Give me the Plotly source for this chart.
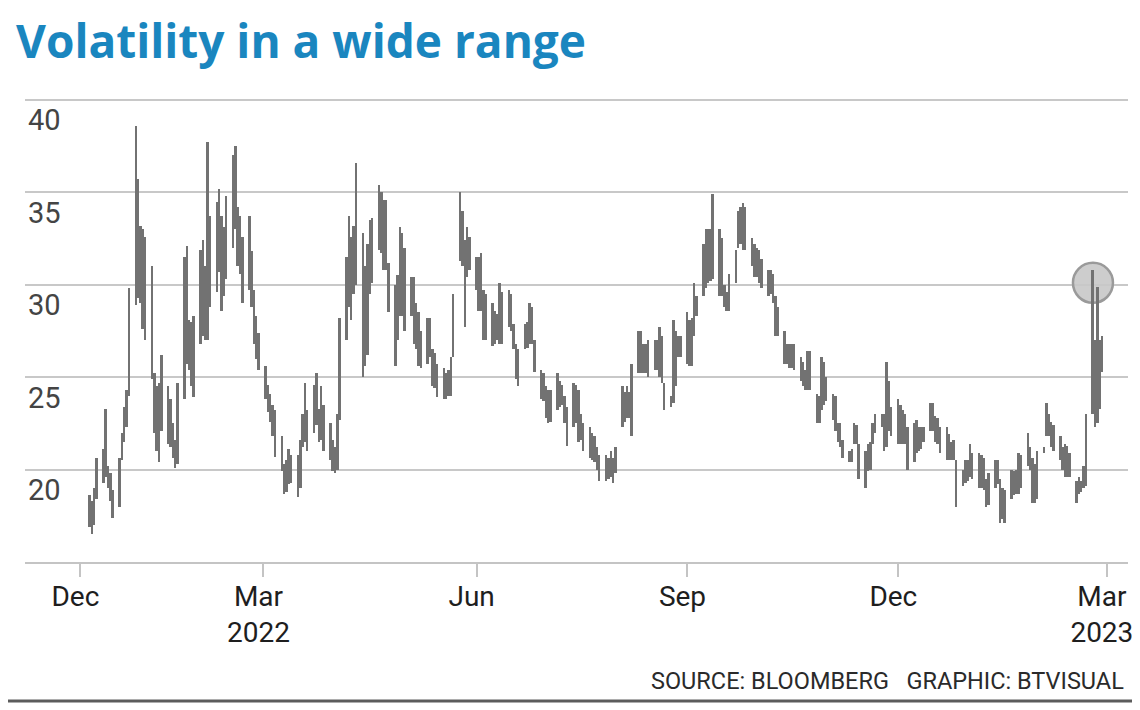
import pandas as pd
import plotly.graph_objects as go

# ---------------- data ----------------
START_DATE = "2022-01-04"   # first trading day shown; one value per business day

high = [
    18.6, 18.3, 19.0, 20.6,
    21.1, 23.3, 20.2, 19.8, 18.9,
    20.6, 22.0, 23.4, 24.3, 29.8,
    38.6, 35.7, 33.2, 33.0, 32.6,
    31.0, 25.2, 24.5, 24.7, 26.2,
    24.5, 23.8, 22.5, 21.6, 24.7,
    31.5, 32.1, 28.1, 28.0, 28.3,
    31.9, 32.4, 31.0, 37.7, 33.7,
    34.5, 35.2, 33.7, 33.1, 34.8,
    37.0, 37.5, 34.2, 33.7, 32.6,
    33.7, 31.8, 29.7, 28.3, 27.4,
    25.6, 24.6, 24.1, 23.5, 23.2,
    21.8, 20.3, 20.5, 21.1, 20.8,
    20.8, 21.6, 23.0, 24.7, 23.2,
    24.6, 25.2, 23.3, 24.5, 23.5,
    22.5, 21.6, 21.2, 23.0, 28.2,
    31.5, 33.7, 32.6, 33.2, 36.6,
    32.8, 31.0, 32.2, 33.5, 33.6,
    35.4, 35.0, 34.6, 34.6, 31.2,
    30.0, 30.5, 33.1, 32.8, 32.0,
    30.4, 30.4, 29.0, 28.5, 27.5,
    28.2, 28.2, 26.5, 26.3, 25.7,
    25.5, 25.2, 25.4, 26.1, 29.5,
    35.0, 34.0, 32.4, 33.1, 32.6,
    31.5, 31.5, 31.7, 29.7, 29.5,
    29.0, 28.6, 28.4, 30.1, 29.6,
    29.7, 29.5, 27.9, 26.8, 26.5,
    27.9, 28.0, 29.0, 28.8, 27.0,
    25.4, 25.2, 24.5, 24.3, 24.3,
    25.2, 24.8, 24.6, 24.0, 23.4,
    24.7, 24.6, 24.3, 23.0, 22.5,
    22.3, 22.0, 21.8, 21.2, 20.8,
    20.8, 20.6, 21.0, 20.6, 21.2,
    24.5, 24.2, 24.5, 24.2, 25.7,
    27.5, 27.5, 26.8, 26.8, 27.0,
    27.0, 27.0, 27.7, 27.2, 24.7,
    24.0, 28.1, 27.5, 27.2, 27.2,
    28.5, 28.1, 28.2, 30.1, 29.4,
    32.2, 33.0, 33.0, 33.0, 34.9,
    33.0, 32.5, 30.0, 29.6, 30.6,
    31.9, 34.0, 34.2, 34.4, 34.2,
    32.5, 32.2, 32.0, 31.9, 31.4,
    30.8, 30.8, 30.6, 29.4, 28.8,
    27.5, 26.8, 26.8, 26.8, 26.8,
    26.1, 25.8, 25.4, 26.4, 26.4,
    24.1, 24.0, 26.1, 25.8, 25.0,
    24.1, 24.0, 22.5, 22.5, 21.6,
    21.0, 21.1, 22.5, 22.4, 21.4,
    21.0, 21.4, 21.5, 22.5, 23.0,
    23.0, 23.0, 25.8, 24.8, 23.4,
    23.8, 23.5, 23.2, 23.0, 22.3,
    22.5, 22.7, 22.3, 22.3, 22.3,
    23.6, 23.6, 22.9, 22.8, 22.3,
    22.3, 21.9, 21.5, 21.6, 20.5,
    20.0, 20.5, 20.5, 21.4, 20.9,
    20.9, 20.8, 20.6, 19.5, 19.8,
    20.5, 20.5, 19.5, 19.0, 18.9,
    20.0, 19.9, 20.0, 20.9, 20.8,
    22.0, 21.2, 20.6, 20.3, 21.0,
    21.2, 23.6, 23.0, 22.6, 22.4,
    21.8, 21.2, 21.4, 21.3, 20.9,
    19.4, 19.6, 19.4, 20.2, 23.0,
    30.8, 27.0, 29.9, 27.0, 27.2,
]

low = [
    16.9, 16.5, 17.0, 18.4,
    19.3, 19.6, 19.0, 18.3, 17.4,
    18.0, 20.5, 21.5, 22.3, 24.0,
    28.9, 29.3, 29.0, 27.6, 27.0,
    24.9, 22.0, 21.0, 20.4, 22.1,
    21.4, 21.2, 20.6, 20.1, 20.3,
    23.8, 25.7, 25.4, 24.5, 23.9,
    26.8, 27.2, 27.0, 27.0, 28.8,
    29.6, 30.7, 28.6, 29.4, 30.3,
    32.0, 33.0, 31.0, 30.6, 29.0,
    29.7, 28.8, 26.8, 26.0, 25.4,
    23.8, 23.1, 22.6, 21.8, 20.7,
    19.9, 18.7, 18.8, 19.2, 19.3,
    18.5, 19.0, 21.2, 21.5, 21.0,
    22.0, 22.4, 21.5, 21.6, 21.0,
    20.5, 19.9, 19.8, 20.0, 22.7,
    27.0, 28.8, 28.1, 29.5, 30.0,
    25.0, 25.6, 26.2, 29.5, 30.1,
    31.9, 31.7, 30.8, 30.8, 28.5,
    25.6, 27.0, 28.3, 28.3, 27.5,
    28.3, 26.8, 26.5, 25.6, 25.5,
    25.7, 26.1, 24.5, 24.4, 23.9,
    23.8, 23.8, 24.0, 24.0, 26.1,
    31.3, 31.0, 27.7, 30.4, 30.8,
    29.7, 28.6, 28.6, 27.0, 27.0,
    26.7, 26.8, 27.0, 26.8, 26.8,
    27.7, 27.5, 26.5, 24.9, 24.5,
    26.5, 26.6, 26.8, 26.8, 25.3,
    23.8, 23.7, 22.8, 22.5, 22.6,
    23.2, 23.4, 23.5, 22.5, 21.3,
    22.3, 22.5, 21.5, 21.6, 21.0,
    20.6, 20.5, 20.4, 20.0, 19.4,
    19.4, 19.5, 19.6, 19.3, 19.8,
    22.3, 22.6, 22.8, 22.8, 21.8,
    25.2, 25.2, 25.2, 25.2, 25.0,
    25.4, 25.4, 25.0, 24.7, 23.2,
    23.4, 23.6, 24.5, 26.1, 26.1,
    25.7, 25.6, 25.6, 27.2, 28.3,
    29.4, 29.8, 30.1, 30.2, 30.3,
    29.4, 29.4, 28.8, 28.6, 28.6,
    30.1, 32.0, 32.2, 31.9, 31.9,
    31.0, 30.4, 30.4, 30.1, 29.8,
    29.4, 29.5, 29.0, 27.2, 27.2,
    25.7, 25.7, 25.5, 25.5, 25.4,
    24.8, 24.5, 24.3, 24.3, 24.3,
    22.5, 22.5, 23.2, 23.5, 23.7,
    22.7, 22.1, 21.5, 21.2, 20.6,
    20.4, 20.4, 21.4, 21.4, 19.5,
    19.0, 19.9, 20.0, 21.4, 22.0,
    22.3, 21.0, 21.2, 22.1, 21.8,
    21.4, 21.4, 21.4, 21.4, 20.0,
    20.4, 20.9, 21.0, 21.1, 21.5,
    22.1, 22.1, 21.5, 21.4, 20.9,
    20.5, 20.5, 20.5, 20.5, 18.0,
    19.1, 19.3, 19.4, 19.6, 19.5,
    19.0, 19.0, 18.9, 18.0, 18.1,
    19.0, 19.2, 17.1, 17.3, 17.1,
    18.4, 18.6, 18.7, 18.7, 19.0,
    20.2, 20.0, 18.2, 18.2, 18.4,
    20.9, 21.8, 21.8, 21.2, 21.0,
    20.5, 20.0, 19.6, 19.6, 19.6,
    18.2, 18.7, 18.8, 19.0, 19.1,
    23.0, 22.3, 22.5, 23.3, 25.3,
]

tick_dates = ["2021-12-31", "2022-03-20", "2022-06-20", "2022-09-19", "2022-12-19", "2023-03-19"]
tick_labels = ["Dec", "Mar<br>2022", "Jun", "Sep", "Dec", "Mar<br>2023"]
y_ticks = [20, 25, 30, 35, 40]
y_labels = ["20", "25", "30", "35", "40"]

highlight_date = "2023-03-13"
highlight_value = 30.1

TITLE = "Volatility in a wide range"
SOURCE = "SOURCE: BLOOMBERG&nbsp;&nbsp;&nbsp;GRAPHIC: BTVISUAL"

# ---------------- figure ----------------
dates = pd.bdate_range(START_DATE, periods=len(high))
span = [h - l for h, l in zip(high, low)]

# page body has an 8px margin, so the figure is sized to fit the 1140x710 window
OFF = 8
W, H = 1140 - OFF, 710 - OFF
L, R, T, B = 17, 12, 90, 148
PW, PH = W - L - R, H - T - B

fig = go.Figure()
fig.add_trace(go.Bar(
    x=dates, y=span, base=low,
    width=0.85 * 86400000,
    marker=dict(color="#727272", line=dict(width=0)),
    showlegend=False, hoverinfo="skip",
))

fig.add_shape(
    type="circle", xref="x", yref="y",
    xsizemode="pixel", ysizemode="pixel",
    xanchor=highlight_date, yanchor=highlight_value,
    x0=-20, x1=20, y0=-20, y1=20,
    fillcolor="rgba(200,200,200,0.9)",
    line=dict(color="#9a9a9a", width=2.5),
    layer="between",
)

fig.add_annotation(
    text=SOURCE, xref="paper", yref="paper",
    x=(1126 - OFF - L) / PW, y=((H - B) - (681 - OFF)) / PH,
    xanchor="right", yanchor="middle", showarrow=False,
    font=dict(family="Roboto, Liberation Sans, sans-serif", size=23.5, color="#2a2a2a"),
)
fig.add_shape(
    type="line", xref="paper", yref="paper",
    x0=-L / PW, x1=1 + R / PW,
    y0=((H - B) - (701 - OFF)) / PH, y1=((H - B) - (701 - OFF)) / PH,
    line=dict(color="#5c5c5c", width=3),
)

fig.update_layout(
    width=W, height=H,
    paper_bgcolor="white", plot_bgcolor="white",
    margin=dict(l=L, r=R, t=T, b=B),
    font=dict(family="Roboto, Liberation Sans, sans-serif", color="#1e1e1e", size=28),
    title=dict(
        text="<b>" + TITLE + "</b>",
        x=8 / W, xanchor="left", y=1 - 34 / H, yanchor="middle",
        font=dict(family="Open Sans, sans-serif", size=46, color="#1a86bf"),
    ),
    bargap=0,
)

fig.update_xaxes(
    type="date", automargin=False,
    range=["2021-12-07 02:00", "2023-03-28 03:00"],
    tickvals=tick_dates, ticktext=tick_labels,
    ticks="outside", ticklen=13, tickwidth=1.5, tickcolor="#c4c4c4",
    showline=True, linecolor="#c4c4c4", linewidth=2,
    showgrid=False, zeroline=False,
    ticklabelstandoff=-5, ticklabelshift=-5,
    tickfont=dict(size=28),
)
fig.update_yaxes(
    automargin=False,
    range=[15, 40.1],
    tickvals=y_ticks, ticktext=y_labels,
    showgrid=True, gridcolor="#c8c8c8", gridwidth=2,
    zeroline=False, ticks="", showline=False,
    ticklabelposition="inside bottom",
    tickfont=dict(size=29),
)

fig.write_html("out.html")
